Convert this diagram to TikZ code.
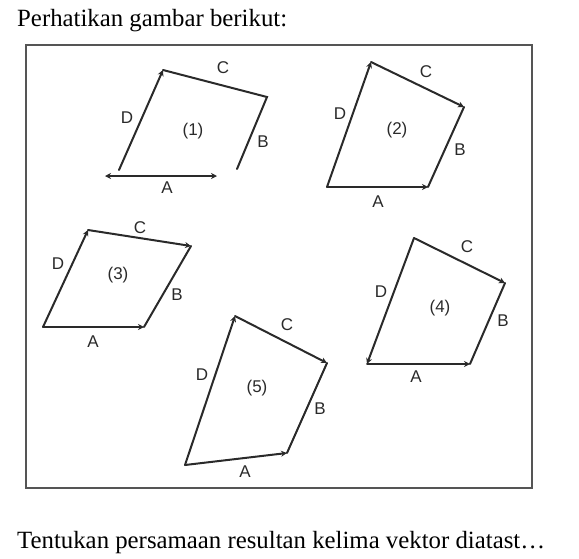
\documentclass[tikz,border=0pt]{standalone}
\usepackage{fontspec}
\setmainfont{Liberation Serif}
\newfontfamily\lblfont{Liberation Sans}
\usetikzlibrary{arrows.meta}
\definecolor{ink}{HTML}{2A2A2A}
\tikzset{
  vec/.style={draw=ink, line width=2pt, line cap=round},
  tip/.style={-{Stealth[length=6pt,width=6pt]}},
  lbl/.style={font=\lblfont\fontsize{17}{17}\selectfont, text=ink, inner sep=0pt},
  para/.style={font=\fontsize{24.8}{28}\selectfont, anchor=base west, inner sep=0pt},
  frame/.style={draw=ink!80, line width=2pt}
}
\begin{document}
\begin{tikzpicture}[x=1pt,y=-1pt]
\useasboundingbox (0,0) rectangle (579,558);
\node[para] (t1) at (17,26) {Perhatikan gambar berikut:};
\node[para] (t2) at (17,548) {Tentukan persamaan resultan kelima vektor diatast\dots};
\draw[frame] (26,45) rectangle (532,488);

% Figure 1
\coordinate (a1) at (105,176); \coordinate (a1e) at (217,176);
\coordinate (d1s) at (119,170); \coordinate (d1e) at (163,70);
\coordinate (b1) at (267,97); \coordinate (b1e) at (237,169);
\draw[vec,{Stealth[length=6pt,width=6pt]}-{Stealth[length=6pt,width=6pt]}] (a1) -- (a1e);
\draw[vec,tip] (d1s) -- (d1e);
\draw[vec] (d1e) -- (b1) -- (b1e);
\node[lbl] (c1l) at (223,68) {C};
\node[lbl] (d1l) at (127,118) {D};
\node[lbl] (n1) at (193,131) {(1)};
\node[lbl] (b1l) at (263,142) {B};
\node[lbl] (a1l) at (167,188) {A};

% Figure 2
\coordinate (p2a) at (327,187); \coordinate (p2b) at (428,187);
\coordinate (p2c) at (464,107); \coordinate (p2d) at (371,62);
\draw[vec,tip] (p2a) -- (p2b);
\draw[vec] (p2c) -- (p2b);
\draw[vec,tip] (p2d) -- (p2c);
\draw[vec,tip] (p2a) -- (p2d);
\node[lbl] (c2l) at (426,72) {C};
\node[lbl] (d2l) at (340,114) {D};
\node[lbl] (n2) at (397,130) {(2)};
\node[lbl] (b2l) at (460,150) {B};
\node[lbl] (a2l) at (378,202) {A};

% Figure 3
\coordinate (p3a) at (43,327); \coordinate (p3b) at (144,327);
\coordinate (p3c) at (191,246); \coordinate (p3d) at (88,230);
\draw[vec,tip] (p3a) -- (p3b);
\draw[vec] (p3c) -- (p3b);
\draw[vec,tip] (p3d) -- (p3c);
\draw[vec,tip] (p3a) -- (p3d);
\node[lbl] (c3l) at (140,228) {C};
\node[lbl] (d3l) at (58,264) {D};
\node[lbl] (n3) at (118,275) {(3)};
\node[lbl] (b3l) at (177,295) {B};
\node[lbl] (a3l) at (93,342) {A};

% Figure 4
\coordinate (p4a) at (367,364); \coordinate (p4b) at (470,364);
\coordinate (p4c) at (505,283); \coordinate (p4d) at (414,238);
\draw[vec,tip] (p4a) -- (p4b);
\draw[vec] (p4c) -- (p4b);
\draw[vec,tip] (p4d) -- (p4c);
\draw[vec,tip] (p4d) -- (p4a);
\node[lbl] (c4l) at (467,247) {C};
\node[lbl] (d4l) at (381,292) {D};
\node[lbl] (n4) at (440,308) {(4)};
\node[lbl] (b4l) at (503,321) {B};
\node[lbl] (a4l) at (416,377) {A};

% Figure 5
\coordinate (p5a) at (185,465); \coordinate (p5b) at (287,453);
\coordinate (p5c) at (327,363); \coordinate (p5d) at (235,316);
\draw[vec,tip] (p5a) -- (p5b);
\draw[vec] (p5c) -- (p5b);
\draw[vec,tip] (p5d) -- (p5c);
\draw[vec,tip] (p5a) -- (p5d);
\node[lbl] (c5l) at (287,325) {C};
\node[lbl] (d5l) at (202,375) {D};
\node[lbl] (n5) at (257,388) {(5)};
\node[lbl] (b5l) at (320,409) {B};
\node[lbl] (a5l) at (245,472) {A};
\end{tikzpicture}
\end{document}
